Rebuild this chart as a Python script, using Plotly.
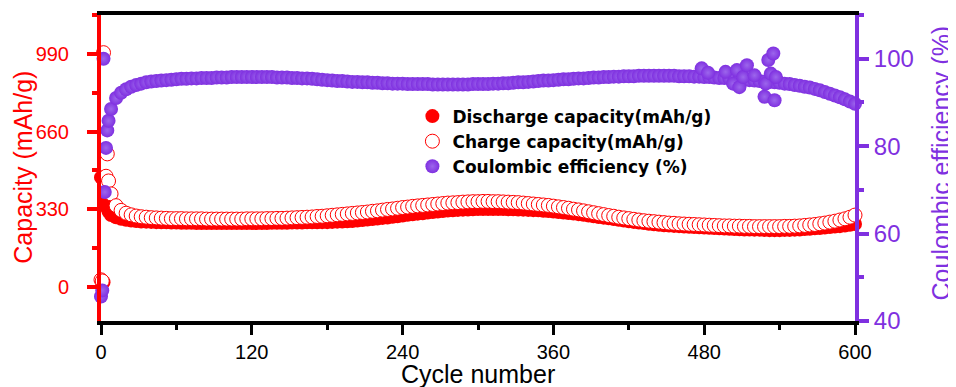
import plotly.graph_objects as go

# ---------------- data ----------------
early_cycles = [0, 1, 2, 3, 4, 5, 6]
early_discharge = [465, 15, 20, 380, 352, 334, 320]
early_charge = [30, 25, 995, 440, 470, 565, 450]
early_ce = [45.6, 47.0, 100.0, 69.5, 79.6, 83.6, 85.8]

# main series sampled every 4 cycles, cycles 8 ... 600
main_cycles = list(range(8, 601, 4))

discharge_main = [
    305, 296, 289, 285, 282, 280, 278, 277, 276, 275,
    274, 274, 273, 273, 272, 272, 272, 271, 271, 271,
    271, 271, 271, 271, 271, 271, 271, 271, 271, 271,
    271, 271, 272, 272, 272, 272, 273, 273, 273, 274,
    274, 274, 275, 275, 276, 277, 278, 279, 280, 282,
    284, 286, 288, 290, 293, 295, 298, 300, 303, 306,
    308, 311, 313, 316, 318, 320, 322, 324, 325, 327,
    328, 329, 330, 331, 331, 331, 331, 331, 331, 330,
    330, 329, 328, 327, 326, 325, 323, 322, 320, 318,
    316, 314, 312, 309, 306, 303, 300, 297, 294, 291,
    288, 285, 282, 279, 276, 273, 271, 268, 266, 264,
    262, 261, 259, 258, 256, 255, 254, 253, 252, 251,
    250, 249, 248, 247, 246, 245, 244, 244, 243, 243,
    242, 241, 241, 241, 242, 242, 243, 244, 246, 247,
    249, 250, 252, 254, 256, 258, 261, 264, 267,
]

charge_main = [
    395, 345, 325, 313, 306, 301, 298, 296, 294, 293,
    292, 291, 290, 290, 290, 289, 289, 289, 289, 288,
    288, 288, 288, 288, 288, 288, 288, 289, 289, 289,
    289, 290, 290, 291, 291, 292, 293, 294, 295, 296,
    297, 299, 300, 302, 304, 306, 308, 310, 312, 314,
    316, 318, 321, 323, 326, 329, 331, 334, 337, 339,
    342, 344, 346, 348, 350, 352, 354, 356, 357, 358,
    360, 361, 362, 362, 363, 363, 362, 362, 361, 360,
    359, 358, 356, 354, 352, 350, 348, 346, 343, 340,
    337, 334, 330, 327, 323, 319, 315, 311, 307, 303,
    300, 296, 293, 290, 287, 284, 281, 279, 277, 275,
    273, 271, 270, 268, 267, 266, 265, 264, 263, 262,
    261, 260, 259, 259, 258, 258, 257, 257, 256, 256,
    256, 256, 256, 256, 257, 257, 258, 259, 261, 263,
    265, 268, 271, 275, 279, 284, 289, 296, 305,
]

ce_main = [
    88.5, 91.0, 92.2, 93.0, 93.6, 94.0, 94.3, 94.6, 94.8, 94.9,
    95.0, 95.1, 95.2, 95.3, 95.4, 95.4, 95.5, 95.5, 95.6, 95.6,
    95.6, 95.7, 95.7, 95.7, 95.8, 95.8, 95.8, 95.8, 95.8, 95.8,
    95.8, 95.8, 95.8, 95.7, 95.7, 95.7, 95.6, 95.6, 95.5, 95.5,
    95.4, 95.3, 95.2, 95.1, 95.0, 94.9, 94.9, 94.8, 94.7, 94.7,
    94.6, 94.6, 94.5, 94.5, 94.4, 94.4, 94.3, 94.3, 94.3, 94.2,
    94.2, 94.2, 94.2, 94.2, 94.1, 94.1, 94.1, 94.1, 94.1, 94.1,
    94.1, 94.1, 94.2, 94.2, 94.2, 94.2, 94.3, 94.3, 94.4, 94.4,
    94.5, 94.6, 94.6, 94.7, 94.8, 94.9, 95.0, 95.0, 95.1, 95.2,
    95.3, 95.3, 95.4, 95.5, 95.5, 95.6, 95.7, 95.7, 95.8, 95.8,
    95.9, 95.9, 96.0, 96.0, 96.0, 96.1, 96.1, 96.1, 96.1, 96.1,
    96.1, 96.1, 96.1, 96.0, 96.0, 96.0, 95.9, 95.9, 95.8, 95.8,
    95.7, 95.6, 95.6, 95.5, 95.4, 95.3, 95.2, 95.1, 95.0, 94.9,
    94.8, 94.7, 94.6, 94.5, 94.3, 94.2, 94.0, 93.8, 93.6, 93.4,
    93.1, 92.8, 92.4, 92.0, 91.6, 91.2, 90.7, 90.2, 89.7,
]

# scattered coulombic-efficiency points around cycles 475-540
ce_extra_cycles = [478, 483, 497, 503, 506, 508, 511, 514, 520, 528, 529, 531, 533, 535, 536, 537]
ce_extra_values = [97.8, 96.8, 97.0, 94.3, 97.4, 93.5, 95.8, 98.5, 96.2, 91.3, 94.3, 99.7, 96.6, 101.2, 90.5, 95.8]

x_ticks = [0, 120, 240, 360, 480, 600]
cap_ticks = [0, 330, 660, 990]
ce_ticks = [40, 60, 80, 100]

RED = "#ff0000"
PURPLE = "#7f30e0"
ARIAL = "Arial, Liberation Sans, sans-serif"

cycles_all = early_cycles + main_cycles
discharge_all = early_discharge + discharge_main
charge_all = early_charge + charge_main
ce_cycles_all = early_cycles + main_cycles + ce_extra_cycles
ce_all = early_ce + ce_main + ce_extra_values

fig = go.Figure()
fig.add_trace(go.Scatter(
    x=cycles_all, y=discharge_all, mode="markers", name="Discharge capacity(mAh/g)",
    marker=dict(symbol="circle", size=14, color=RED, line=dict(width=0)),
    cliponaxis=False, legendgroup="a",
))
fig.add_trace(go.Scatter(
    x=cycles_all, y=charge_all, mode="markers", name="Charge capacity(mAh/g)",
    marker=dict(symbol="circle", size=14, color="white", line=dict(width=1, color=RED)),
    cliponaxis=False, legendgroup="b",
))
fig.add_trace(go.Scatter(
    x=ce_cycles_all, y=ce_all, mode="markers", name="Coulombic efficiency (%)", yaxis="y2",
    marker=dict(symbol="circle", size=14, color=PURPLE, line=dict(width=0),
                gradient=dict(type="radial", color="#9c66ec")),
    cliponaxis=False, legendgroup="c",
))

# the page body adds an 8 px offset; margins compensate so the plot area sits at
# x 101-855, y 15-321 of the window
fig.update_layout(
    template="none",
    width=956, height=387,
    margin=dict(l=93, r=109, t=7, b=74, autoexpand=False),
    paper_bgcolor="white", plot_bgcolor="white",
    font=dict(family=ARIAL),
    showlegend=True,
    legend=dict(
        x=0.413, y=0.727, xanchor="left", yanchor="top",
        bgcolor="rgba(0,0,0,0)", borderwidth=0,
        font=dict(family="DejaVu Sans", size=17, color="black", weight="bold"),
        traceorder="grouped", tracegroupgap=0,
    ),
    xaxis=dict(
        automargin=False,
        range=[0, 600], tickvals=x_ticks, ticktext=[str(v) for v in x_ticks],
        showline=True, linecolor="black", linewidth=4, mirror=True,
        ticks="outside", ticklen=10, tickwidth=3, tickcolor="black",
        minor=dict(dtick=60, tick0=0, ticks="outside", ticklen=5, tickwidth=3, tickcolor="black"),
        showgrid=False, zeroline=False,
        tickfont=dict(size=20, color="black"),
        ticklabelstandoff=0,
    ),
    yaxis=dict(
        automargin=False,
        range=[-145, 1155], tickvals=cap_ticks,
        showline=True, linecolor=RED, linewidth=4,
        ticks="outside", ticklen=10, tickwidth=4, tickcolor=RED,
        minor=dict(tickvals=[165, 495, 825, 1155], ticks="outside", ticklen=5, tickwidth=4, tickcolor=RED),
        showgrid=False, zeroline=False,
        tickfont=dict(size=20, color=RED),
        ticklabelstandoff=14,
    ),
    yaxis2=dict(
        automargin=False,
        range=[40, 110], tickvals=ce_ticks, overlaying="y", side="right",
        showline=True, linecolor=PURPLE, linewidth=4,
        ticks="outside", ticklen=10, tickwidth=4, tickcolor=PURPLE,
        minor=dict(tickvals=[50, 70, 90, 110], ticks="outside", ticklen=5, tickwidth=4, tickcolor=PURPLE),
        showgrid=False, zeroline=False,
        tickfont=dict(size=24, color=PURPLE),
        tickprefix="\u00a0",
    ),
    annotations=[
        dict(text="Cycle number", xref="paper", yref="paper", x=0.5, y=-0.172,
             xanchor="center", yanchor="middle", showarrow=False,
             font=dict(size=25, color="black", family=ARIAL)),
        dict(text="Capacity (mAh/g)", xref="paper", yref="paper", x=-0.103, y=0.502,
             xanchor="center", yanchor="middle", showarrow=False, textangle=-90,
             font=dict(size=25, color=RED, family=ARIAL)),
        dict(text="Coulombic efficiency (%)", xref="paper", yref="paper", x=1.1145, y=0.516,
             xanchor="center", yanchor="middle", showarrow=False, textangle=-90,
             font=dict(size=25, color=PURPLE, family=ARIAL)),
    ],
)

fig.write_html("out.html")
